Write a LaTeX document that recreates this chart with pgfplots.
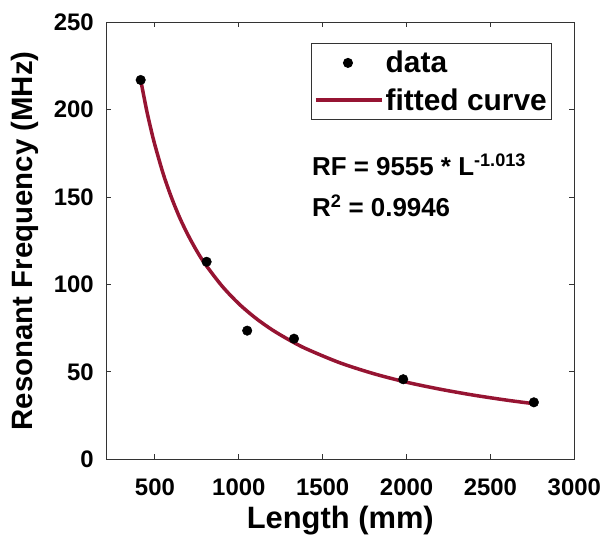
\documentclass[border=0pt]{standalone}
\usepackage{fontspec}
\setmainfont{Liberation Sans}
\usepackage{pgfplots}
\pgfplotsset{compat=1.18}
\definecolor{fitred}{RGB}{150,20,50}
\begin{document}
\begin{tikzpicture}
\begin{axis}[
  scale only axis,
  width=468bp, height=437bp,
  xmin=210, xmax=3000,
  ymin=0, ymax=250,
  xtick={500,1000,1500,2000,2500,3000},
  ytick={0,50,100,150,200,250},
  tick align=inside,
  major tick length=5bp,
  axis line style={line width=1.2bp, black!80},
  every tick/.style={line width=1bp, black!80},
  /pgf/number format/1000 sep={},
  /pgf/number format/assume math mode=true,
  ticklabel style={font=\bfseries\fontsize{24}{24}\selectfont},
  xticklabel style={yshift=-16bp},
  yticklabel style={xshift=-9bp},
  xlabel={Length (mm)},
  ylabel={Resonant Frequency (MHz)},
  xlabel style={font=\bfseries\fontsize{31}{31}\selectfont, yshift=-3bp},
  ylabel style={font=\bfseries\fontsize{29.5}{29.5}\selectfont, yshift=8bp},
  legend style={at={(0.953,0.953)}, anchor=north east,
    font=\bfseries\fontsize{30}{30}\selectfont,
    draw=black!80, line width=1bp, inner xsep=3bp, inner ysep=6bp,
    row sep=10bp},
  legend cell align=left,
]
\addplot[only marks, mark=*, mark size=4.8bp, black,
  legend image code/.code={\fill[black] (32bp,0bp) circle (4.5bp); \path[draw=none] (0bp,0bp) -- (66bp,0bp);}]
  coordinates {(415,217) (808,113) (1050,73.6) (1329,69) (1980,45.8) (2759,32.6)};
\addlegendentry{data}
\addplot[fitred, line width=3.5bp, smooth,
  legend image code/.code={\draw[fitred, line width=3.5bp] (0bp,0bp) -- (66bp,0bp);}]
  coordinates {(415,217.0) (450,199.9) (475,189.3) (500,179.7) (550,163.1) (600,149.4)
  (650,137.7) (700,127.8) (750,119.1) (800,111.6) (900,99.1) (1000,89.0) (1100,80.8)
  (1200,74.0) (1300,68.3) (1400,63.3) (1600,55.3) (1800,49.1) (2000,44.1) (2200,40.1)
  (2400,36.7) (2600,33.8) (2760,31.8)};
\addlegendentry{fitted curve}
\node[anchor=west, font=\bfseries\fontsize{26}{26}\selectfont, inner sep=0pt]
  at (axis cs:1436,168.4) {RF = 9555 * L\textsuperscript{-1.013}};
\node[anchor=west, font=\bfseries\fontsize{26}{26}\selectfont, inner sep=0pt]
  at (axis cs:1436,144.8) {R\textsuperscript{2} = 0.9946};
\end{axis}
\pgfresetboundingbox
\useasboundingbox ([shift={(-106.3bp,-82.7bp)}]current axis.south west) rectangle ([shift={(32.7bp,22.3bp)}]current axis.north east);
\end{tikzpicture}
\end{document}
